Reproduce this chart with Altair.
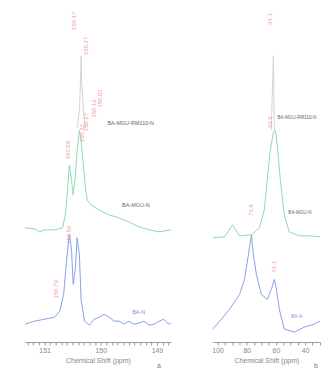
import altair as alt
import pandas as pd

# ---------------- panel a (ppm, relative intensity) ----------------
a_ban_x = [151.35, 151.18, 151.00, 150.82, 150.73, 150.66, 150.61, 150.56, 150.52, 150.49,
           150.45, 150.42, 150.38, 150.35, 150.29, 150.20, 150.12, 150.03, 149.94, 149.85,
           149.76, 149.67, 149.58, 149.50, 149.41, 149.32, 149.23, 149.14, 149.05, 148.96,
           148.88, 148.79, 148.75]
a_ban_y = [5.4, 6.3, 6.9, 7.5, 9.3, 14.4, 24.3, 32.4, 27.9, 17.4,
           22.5, 31.5, 26.4, 12.9, 6.3, 5.1, 6.9, 7.5, 8.4, 7.5,
           6.3, 6.3, 5.4, 6.3, 5.4, 5.7, 6.3, 5.1, 5.4, 6.3,
           6.9, 5.4, 5.7]

a_mgu_x = [151.35, 151.18, 151.09, 151.00, 150.82, 150.68, 150.63, 150.59, 150.56, 150.52,
           150.49, 150.45, 150.42, 150.38, 150.35, 150.31, 150.27, 150.24, 150.17, 150.03,
           149.85, 149.67, 149.50, 149.32, 149.14, 148.96, 148.75]
a_mgu_y = [34.5, 34.2, 33.3, 33.9, 33.9, 34.5, 38.4, 45.9, 53.5, 48.9,
           44.4, 50.5, 58.0, 64.0, 61.0, 53.5, 45.9, 42.9, 41.4, 39.9,
           38.4, 37.5, 36.3, 34.8, 33.9, 33.3, 33.9]

a_rm_x = [150.42, 150.38, 150.36, 150.35, 150.34, 150.31, 150.27]
a_rm_y = [64.6, 70.0, 79.0, 86.5, 79.0, 70.0, 64.6]

a_pk_x = [150.47, 150.27, 150.01, 150.12, 150.27, 150.33, 150.59, 150.56, 150.79]
a_pk_y = [97.0, 89.5, 73.6, 70.6, 66.4, 63.1, 58.0, 32.4, 15.9]
a_pk_t = ["150.47", "150.27", "150.01", "150.12", "150.27", "150.33", "150.59", "150.56", "150.79"]

a_lab_x = [149.88, 149.62, 149.44]
a_lab_y = [66.1, 41.4, 9.0]
a_lab_t = ["BA-MGU-RM110-N", "BA-MGU-N", "BA-N"]

a_ticks = [151.3, 151.2, 151.1, 151.0, 150.9, 150.8, 150.7, 150.6, 150.5, 150.4,
           150.3, 150.2, 150.1, 150.0, 149.9, 149.8, 149.7, 149.6, 149.5, 149.4,
           149.3, 149.2, 149.1, 149.0, 148.9, 148.8]

# ---------------- panel b ----------------
b_ban_x = [103.4, 98.6, 91.8, 85.0, 81.6, 78.9, 76.8, 75.5, 73.4, 70.0,
           65.9, 63.2, 61.1, 59.7, 57.7, 54.3, 47.4, 40.6, 33.8, 29.8]
b_ban_y = [3.9, 6.3, 9.9, 14.4, 18.9, 26.4, 32.4, 26.4, 20.4, 14.4,
           12.9, 15.9, 18.9, 15.9, 9.9, 3.9, 3.0, 4.5, 5.4, 6.3]

b_mgu_x = [103.4, 95.2, 89.8, 85.0, 76.8, 71.4, 68.0, 66.0, 63.9, 61.8,
           60.5, 59.1, 57.0, 54.3, 50.9, 44.0, 37.2, 29.8]
b_mgu_y = [31.5, 31.8, 35.4, 32.1, 32.4, 34.5, 39.9, 48.9, 57.9, 63.4,
           64.0, 59.5, 48.9, 38.4, 33.3, 32.1, 32.1, 31.8]

b_rm_x = [63.2, 62.5, 61.8, 61.1]
b_rm_y = [64.0, 75.0, 86.5, 64.0]

b_pk_x = [63.9, 63.9, 76.8, 61.1]
b_pk_y = [97.6, 66.4, 39.9, 22.8]
b_pk_t = ["64.1", "63.9", "76.8", "61.1"]

b_lab_x = [59.0, 51.5, 49.5]
b_lab_y = [67.6, 39.0, 7.5]
b_lab_t = ["BA-MGU-RM110-N", "BA-MGU-N", "BA-N"]

b_ticks = [100, 95, 90, 85, 80, 75, 70, 65, 60, 55, 50, 45, 40, 35, 30]

series = ["BA-MGU-RM110-N", "BA-MGU-N", "BA-N"]
colors = ["#d4d4d4", "#8fdab0", "#86a0ea"]
label_colors = ["#666666", "#666666", "#7592e2"]

H = 333


def frame(xs, ys, name):
    return pd.DataFrame({"x": xs, "y": ys, "s": name})


def panel(width, domain, ticks, lines, pk, labs, letter, letter_x, major_expr, lab_size):
    xs = alt.Scale(domain=domain, zero=False, nice=False)
    ys = alt.Scale(domain=[0, 100])
    xax = alt.Axis(values=ticks, title="Chemical Shift (ppm)", labelExpr=major_expr,
                   labelOverlap=False)
    layers = []
    for i, (lx, ly) in enumerate(lines):
        df = frame(lx, ly, series[i])
        layers.append(alt.Chart(df).mark_line(color=colors[i], strokeWidth=1, clip=True).encode(
            x=alt.X("x:Q", scale=xs, axis=xax),
            y=alt.Y("y:Q", scale=ys, axis=None)))
    pkdf = pd.DataFrame({"x": pk[0], "y": pk[1], "t": pk[2]})
    layers.append(alt.Chart(pkdf).mark_text(angle=270, fontSize=6, color="#f29a9a", clip=True)
                  .encode(x=alt.X("x:Q", scale=xs, axis=xax), y=alt.Y("y:Q", scale=ys, axis=None), text="t:N"))
    for i in range(3):
        ldf = pd.DataFrame({"x": [labs[0][i]], "y": [labs[1][i]], "t": [labs[2][i]]})
        layers.append(alt.Chart(ldf).mark_text(align="left", fontSize=lab_size, color=label_colors[i], clip=True)
                      .encode(x=alt.X("x:Q", scale=xs, axis=xax), y=alt.Y("y:Q", scale=ys, axis=None), text="t:N"))
    tdf = pd.DataFrame({"t": [letter]})
    layers.append(alt.Chart(tdf).mark_text(fontSize=7, color="#777777")
                  .encode(x=alt.value(letter_x), y=alt.value(H + 24), text="t:N"))
    return alt.layer(*layers).properties(width=width, height=H)


left = panel(147, [151.35, 148.75], a_ticks,
             [(a_rm_x, a_rm_y), (a_mgu_x, a_mgu_y), (a_ban_x, a_ban_y)],
             (a_pk_x, a_pk_y, a_pk_t), (a_lab_x, a_lab_y, a_lab_t), "a", 135,
             "abs(datum.value - round(datum.value)) < 0.01 ? format(datum.value, '.0f') : ''", 5.5)
right = panel(108, [103.4, 29.8], b_ticks,
              [(b_rm_x, b_rm_y), (b_mgu_x, b_mgu_y), (b_ban_x, b_ban_y)],
              (b_pk_x, b_pk_y, b_pk_t), (b_lab_x, b_lab_y, b_lab_t), "b", 104,
              "datum.value % 20 == 0 ? format(datum.value, '.0f') : ''", 4.6)

chart = alt.hconcat(left, right, spacing=41).properties(
    padding={"left": 17, "top": 2, "right": 0, "bottom": 0}
).configure(
    font="Liberation Sans",
    view=alt.ViewConfig(stroke=None),
    axis=alt.AxisConfig(labelOverlap=False, tickSize=3, labelFontSize=7, titleFontSize=7,
                        titleFontWeight="normal", labelColor="#888888", titleColor="#888888",
                        domainColor="#9a9a9a", tickColor="#9a9a9a", grid=False,
                        titlePadding=3, labelPadding=2, labelFlush=False),
)

chart.save("out.html", embed_options={"renderer": "svg", "actions": False})
